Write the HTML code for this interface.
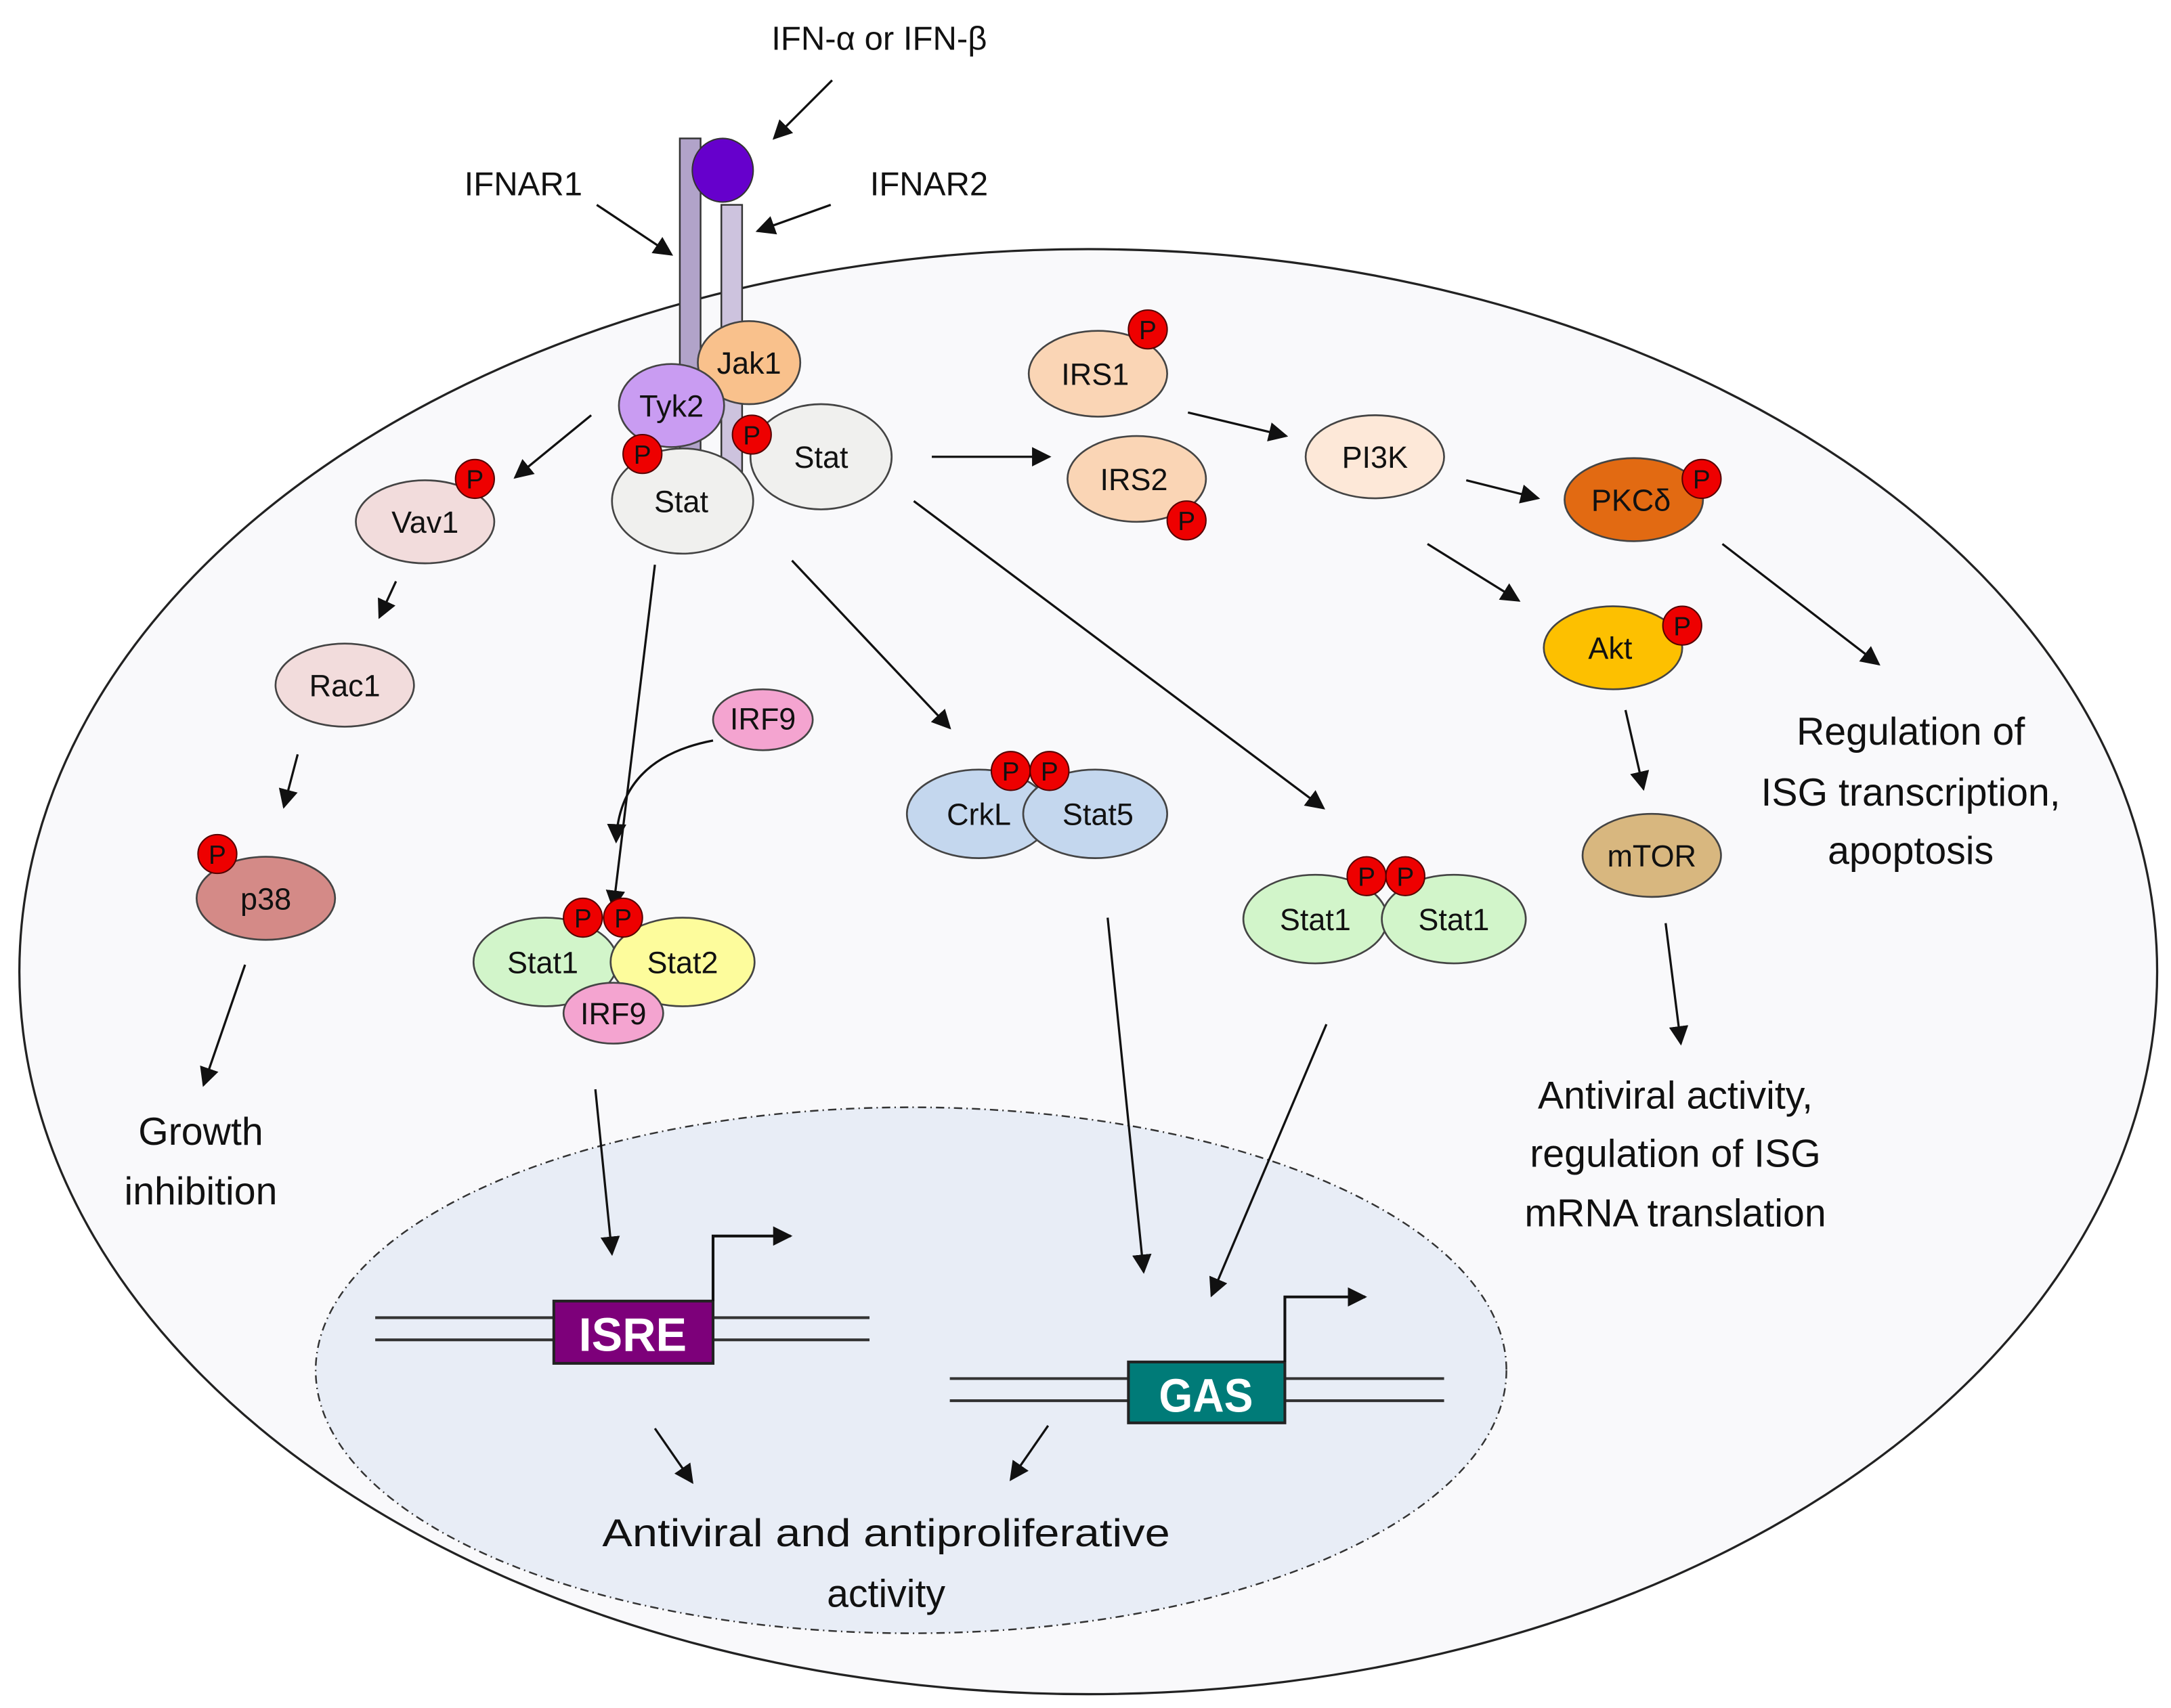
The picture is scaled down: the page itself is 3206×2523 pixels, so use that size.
<!DOCTYPE html>
<html><head><meta charset="utf-8"><style>html,body{margin:0;padding:0;background:#fff}svg{display:block}</style></head>
<body>
<svg width="3206" height="2523" viewBox="0 0 1568 1234" preserveAspectRatio="none" xmlns="http://www.w3.org/2000/svg" font-family="Liberation Sans, sans-serif">
<defs>
<marker id="a" viewBox="0 0 10 10" refX="9" refY="5" markerWidth="7" markerHeight="7" orient="auto" markerUnits="userSpaceOnUse"><path d="M0,0L10,5L0,10z" fill="#111"/></marker>
<marker id="b" viewBox="0 0 10 10" refX="9" refY="5" markerWidth="14" markerHeight="14" orient="auto" markerUnits="userSpaceOnUse"><path d="M0,0L10,5L0,10z" fill="#111"/></marker>
</defs>
<rect width="1568" height="1234" fill="#fff"/>
<ellipse cx="786" cy="702" rx="772" ry="522" fill="#f9f9fb" stroke="#222" stroke-width="1.6"/>
<ellipse cx="658" cy="990" rx="430" ry="190" fill="#e8edf6" stroke="#333" stroke-width="1.2" stroke-dasharray="6,3,1,3"/>

<!-- receptor -->
<rect x="491" y="100" width="15" height="232" fill="#b1a3c9" stroke="#333" stroke-width="1.2"/>
<rect x="521" y="148" width="15" height="220" fill="#cdc3de" stroke="#333" stroke-width="1.2"/>
<ellipse cx="522" cy="123" rx="22" ry="23" fill="#6600cc" stroke="#333" stroke-width="1"/>

<g stroke="#111" stroke-width="1.6" fill="none" marker-end="url(#b)">
<line x1="601" y1="58" x2="559" y2="100"/>
<line x1="431" y1="148" x2="485" y2="184"/>
<line x1="600" y1="148" x2="547" y2="167"/>
<line x1="427" y1="300" x2="372" y2="345"/>
<line x1="286" y1="420" x2="274" y2="446"/>
<line x1="215" y1="545" x2="205" y2="583"/>
<line x1="177" y1="697" x2="147" y2="784"/>
<line x1="473" y1="408" x2="443" y2="656"/>
<path d="M515,535 Q447,548 445,608"/>
<line x1="572" y1="405" x2="686" y2="526"/>
<line x1="673" y1="330" x2="758" y2="330"/>
<line x1="660" y1="362" x2="956" y2="584"/>
<line x1="858" y1="298" x2="929" y2="315"/>
<line x1="1059" y1="347" x2="1111" y2="360"/>
<line x1="1031" y1="393" x2="1097" y2="434"/>
<line x1="1244" y1="393" x2="1357" y2="480"/>
<line x1="1174" y1="513" x2="1187" y2="570"/>
<line x1="1203" y1="667" x2="1214" y2="754"/>
<line x1="430" y1="787" x2="442" y2="906"/>
<line x1="800" y1="663" x2="826" y2="919"/>
<line x1="958" y1="740" x2="875" y2="936"/>
<line x1="473" y1="1032" x2="500" y2="1071"/>
<line x1="757" y1="1030" x2="730" y2="1069"/>
</g>

<!-- DNA -->
<g stroke="#333" stroke-width="2">
<line x1="271" y1="952" x2="628" y2="952"/><line x1="271" y1="968" x2="628" y2="968"/>
<line x1="686" y1="996" x2="1043" y2="996"/><line x1="686" y1="1012" x2="1043" y2="1012"/>
</g>
<rect x="400" y="940" width="115" height="45" fill="#7d007a" stroke="#222" stroke-width="2"/>
<text x="457" y="976" font-size="34" font-weight="bold" fill="#fff" text-anchor="middle" textLength="78" lengthAdjust="spacingAndGlyphs">ISRE</text>
<rect x="815" y="984" width="113" height="44" fill="#007b78" stroke="#222" stroke-width="2"/>
<text x="871" y="1020" font-size="34" font-weight="bold" fill="#fff" text-anchor="middle" textLength="68" lengthAdjust="spacingAndGlyphs">GAS</text>
<g stroke="#111" stroke-width="2" fill="none" marker-end="url(#b)">
<path d="M515,940 V893 H571"/>
<path d="M928,984 V937 H986"/>
</g>

<!-- nodes -->
<g stroke="#444" stroke-width="1.3" font-size="22" text-anchor="middle">
<ellipse cx="541" cy="262" rx="37" ry="30" fill="#f9c18c"/>
<ellipse cx="485" cy="293" rx="38" ry="30" fill="#c99cf2"/>
<ellipse cx="493" cy="362" rx="51" ry="38" fill="#f0f0ee"/>
<ellipse cx="593" cy="330" rx="51" ry="38" fill="#f0f0ee"/>
<ellipse cx="307" cy="377" rx="50" ry="30" fill="#f2dcdc"/>
<ellipse cx="249" cy="495" rx="50" ry="30" fill="#f2dcdc"/>
<ellipse cx="192" cy="649" rx="50" ry="30" fill="#d48a87"/>
<ellipse cx="551" cy="520" rx="36" ry="22" fill="#f4a4d0"/>
<ellipse cx="394" cy="695" rx="52" ry="32" fill="#d2f5ca"/>
<ellipse cx="493" cy="695" rx="52" ry="32" fill="#fdfc9c"/>
<ellipse cx="443" cy="732" rx="36" ry="22" fill="#f4a4d0"/>
<ellipse cx="707" cy="588" rx="52" ry="32" fill="#c4d7ee"/>
<ellipse cx="791" cy="588" rx="52" ry="32" fill="#c4d7ee"/>
<ellipse cx="950" cy="664" rx="52" ry="32" fill="#d2f5ca"/>
<ellipse cx="1050" cy="664" rx="52" ry="32" fill="#d2f5ca"/>
<ellipse cx="793" cy="270" rx="50" ry="31" fill="#fad5b5"/>
<ellipse cx="821" cy="346" rx="50" ry="31" fill="#fad5b5"/>
<ellipse cx="993" cy="330" rx="50" ry="30" fill="#fde8d8"/>
<ellipse cx="1180" cy="361" rx="50" ry="30" fill="#e26a12"/>
<ellipse cx="1165" cy="468" rx="50" ry="30" fill="#fdc000"/>
<ellipse cx="1193" cy="618" rx="50" ry="30" fill="#d8b77f"/>
</g>
<g font-size="22" text-anchor="middle" fill="#111">
<text x="541" y="270">Jak1</text>
<text x="485" y="301">Tyk2</text>
<text x="492" y="370">Stat</text>
<text x="593" y="338">Stat</text>
<text x="307" y="385">Vav1</text>
<text x="249" y="503">Rac1</text>
<text x="192" y="657">p38</text>
<text x="551" y="527">IRF9</text>
<text x="392" y="703">Stat1</text>
<text x="493" y="703">Stat2</text>
<text x="443" y="740">IRF9</text>
<text x="707" y="596">CrkL</text>
<text x="793" y="596">Stat5</text>
<text x="950" y="672">Stat1</text>
<text x="1050" y="672">Stat1</text>
<text x="791" y="278">IRS1</text>
<text x="819" y="354">IRS2</text>
<text x="993" y="338">PI3K</text>
<text x="1178" y="369">PKCδ</text>
<text x="1163" y="476">Akt</text>
<text x="1193" y="626">mTOR</text>
</g>

<!-- P circles -->
<g font-size="19" text-anchor="middle">
<g fill="#e00" stroke="#500" stroke-width="1">
<circle cx="464" cy="328" r="14"/><circle cx="543" cy="314" r="14"/>
<circle cx="343" cy="346" r="14"/><circle cx="157" cy="617" r="14"/>
<circle cx="421" cy="663" r="14"/><circle cx="450" cy="663" r="14"/>
<circle cx="730" cy="557" r="14"/><circle cx="758" cy="557" r="14"/>
<circle cx="987" cy="633" r="14"/><circle cx="1015" cy="633" r="14"/>
<circle cx="829" cy="238" r="14"/><circle cx="857" cy="376" r="14"/>
<circle cx="1229" cy="346" r="14"/><circle cx="1215" cy="452" r="14"/>
</g>
<g fill="#111">
<text x="464" y="335">P</text><text x="543" y="321">P</text>
<text x="343" y="353">P</text><text x="157" y="624">P</text>
<text x="421" y="670">P</text><text x="450" y="670">P</text>
<text x="730" y="564">P</text><text x="758" y="564">P</text>
<text x="987" y="640">P</text><text x="1015" y="640">P</text>
<text x="829" y="245">P</text><text x="857" y="383">P</text>
<text x="1229" y="353">P</text><text x="1215" y="459">P</text>
</g>
</g>

<!-- labels -->
<g fill="#111" text-anchor="middle">
<text x="635" y="36" font-size="24">IFN-α or IFN-β</text>
<text x="378" y="141" font-size="24">IFNAR1</text>
<text x="671" y="141" font-size="24">IFNAR2</text>
<g font-size="28">
<text x="145" y="827">Growth</text>
<text x="145" y="870">inhibition</text>
<text x="1380" y="538">Regulation of</text>
<text x="1380" y="582">ISG transcription,</text>
<text x="1380" y="624">apoptosis</text>
<text x="1210" y="801">Antiviral activity,</text>
<text x="1210" y="843">regulation of ISG</text>
<text x="1210" y="886">mRNA translation</text>
<text x="640" y="1117" textLength="410" lengthAdjust="spacingAndGlyphs">Antiviral and antiproliferative</text>
<text x="640" y="1161">activity</text>
</g>
</g>
</svg>
</body></html>
